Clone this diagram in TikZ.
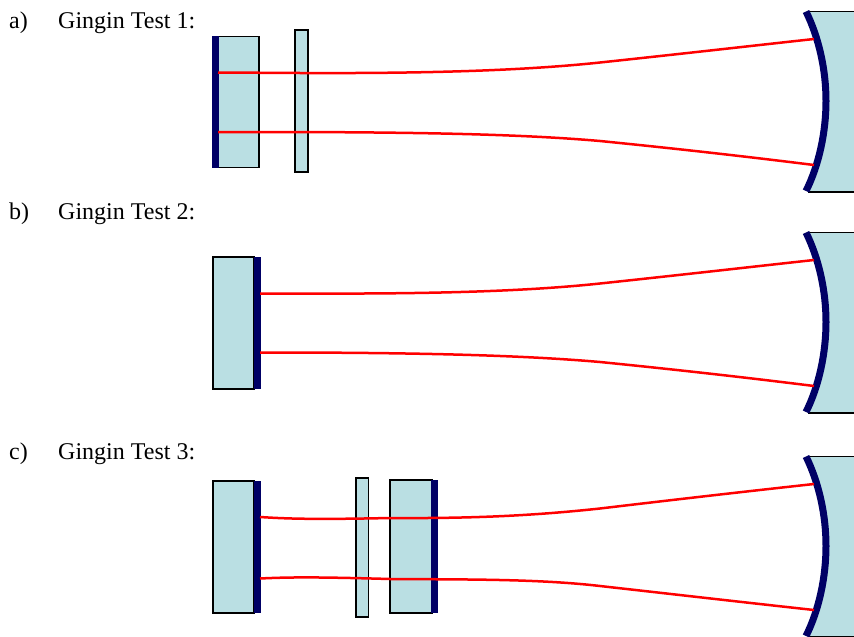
\documentclass[tikz,border=0pt]{standalone}
\usepackage{fontspec}
\setmainfont{Liberation Serif}
\definecolor{glasscol}{HTML}{BADFE3}
\definecolor{navycol}{HTML}{000066}
\newcommand{\curvedmirror}[2]{%
  \begin{scope}[yshift=-#2pt]
    \fill[glasscol] (808,11.5) .. controls (821,38) and (827,70) .. (827,101) .. controls (827,132) and (821,165) .. (808,192) -- (854,192) -- (854,11.5) -- cycle;
    \draw[edge] (808,11.5) -- (854,11.5);
    \draw[edge] (808,192) -- (854,192);
    \draw[mirrorline] (806,11.5) .. controls (819,38) and (826,70) .. (826,101) .. controls (826,132) and (819,165) .. (806,191);
    \coordinate (#1top) at (814,39);
    \coordinate (#1bot) at (814,165);
  \end{scope}}
\tikzset{
  x=1pt,y=-1pt,
  edge/.style={draw=black,line width=1.5pt},
  mirrorline/.style={draw=navycol,line width=7pt},
  glass/.style={fill=glasscol,draw=black,line width=1.7pt,inner sep=0pt,outer sep=0pt,anchor=north west},
  coat/.style={fill=navycol,draw=none,inner sep=0pt,outer sep=0pt,anchor=north west,minimum width=7pt},
  ray/.style={draw=red,line width=2.5pt},
  lab/.style={anchor=base west,font=\fontsize{24}{24}\selectfont,inner sep=0pt}
}
\begin{document}
\begin{tikzpicture}
\useasboundingbox (0,0) rectangle (854,637);
\clip (0,0) rectangle (854,637);
\fill[white] (0,0) rectangle (854,637);
% labels
\node[lab] (la) at (9,28.5) {a)};
\node[lab] (lta) at (58,28.5) {Gingin Test 1:};
\node[lab] (lb) at (9,219) {b)};
\node[lab] (ltb) at (58,219) {Gingin Test 2:};
\node[lab] (lc) at (9,459.5) {c)};
\node[lab] (ltc) at (58,459.5) {Gingin Test 3:};
% mirrors
\curvedmirror{ma}{0}
\curvedmirror{mb}{221}
\curvedmirror{mc}{445}
% Test 1
\node[glass,minimum width=41pt,minimum height=131pt] (a1) at (218.2,36.5) {};
\node[coat,minimum height=132.5pt] (a1c) at (212,35.5) {};
\node[glass,minimum width=13pt,minimum height=142pt] (a2) at (295,30) {};
\coordinate (a1u) at (218,72.5);
\coordinate (a1d) at (218,132);
\draw[ray] (a1u) -- (300,73) .. controls (420,73.5) and (520,71) .. (600,62.5) .. controls (680,54) and (750,46) .. (matop);
\draw[ray] (a1d) -- (300,132) .. controls (420,132.5) and (520,134) .. (600,141) .. controls (680,149) and (750,157) .. (mabot);
% Test 2
\node[glass,minimum width=41pt,minimum height=132pt] (b1) at (213,257) {};
\node[coat,minimum height=132pt] (b1c) at (253.5,257) {};
\coordinate (b1u) at (260,293.5);
\coordinate (b1d) at (260,352.5);
\draw[ray] (b1u) -- (300,293.5) .. controls (420,294) and (520,292) .. (600,283.5) .. controls (680,275) and (750,267) .. (mbtop);
\draw[ray] (b1d) -- (300,352.5) .. controls (420,353) and (520,355) .. (600,362) .. controls (680,370) and (750,378) .. (mbbot);
% Test 3
\node[glass,minimum width=41pt,minimum height=132pt] (c1) at (213,481) {};
\node[coat,minimum height=132pt] (c1c) at (253.5,481) {};
\node[glass,minimum width=12.5pt,minimum height=139pt] (c2) at (356,478) {};
\node[glass,minimum width=42pt,minimum height=133pt] (c3) at (390,480) {};
\node[coat,minimum height=133pt] (c3c) at (431,480) {};
\coordinate (c1u) at (260,517);
\coordinate (c1d) at (260,578.5);
\draw[ray] (c1u) .. controls (290,519) and (320,519.5) .. (390,518) .. controls (470,518.5) and (530,516) .. (600,508.5) .. controls (680,499) and (750,491) .. (mctop);
\draw[ray] (c1d) .. controls (290,577) and (320,577) .. (390,579) .. controls (470,579.5) and (540,579) .. (600,586) .. controls (680,595) and (750,603) .. (mcbot);
\end{tikzpicture}
\end{document}
